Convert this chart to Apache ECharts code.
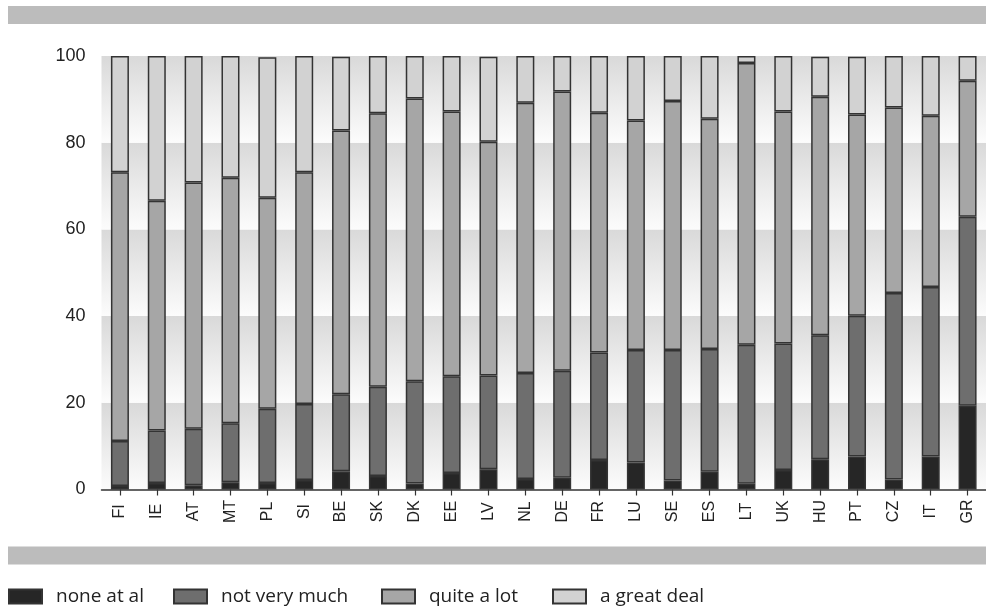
<!DOCTYPE html>
<html>
<head>
<meta charset="utf-8">
<style>
  html, body { margin: 0; padding: 0; background: #ffffff; }
  #chart { width: 986px; height: 608px; }
</style>
<script src="https://cdn.jsdelivr.net/npm/echarts@6/dist/echarts.min.js"></script>
</head>
<body>
<div id="chart"></div>
<script>
// Countries, ordered by share answering "not very much" + "none at all"
const countries = ['FI','IE','AT','MT','PL','SI','BE','SK','DK','EE','LV','NL','DE','FR','LU','SE','ES','LT','UK','HU','PT','CZ','IT','GR'];

// Percentages per answer category
const noneAtAll   = [0.8, 1.5, 1.0, 1.7, 1.5, 2.2, 4.2, 3.1, 1.4, 3.8, 4.7, 2.4, 2.7, 6.8, 6.2, 2.1, 4.1, 1.3, 4.5, 7.0, 7.6, 2.3, 7.6, 19.3];
const notVeryMuch = [10.4, 12.1, 13.0, 13.6, 17.1, 17.5, 17.8, 20.6, 23.6, 22.3, 21.6, 24.5, 24.7, 24.8, 26.0, 30.1, 28.3, 32.1, 29.2, 28.6, 32.5, 43.0, 39.1, 43.6];
const quiteALot   = [62.0, 53.0, 56.8, 56.6, 48.7, 53.5, 60.8, 63.1, 65.2, 61.1, 53.9, 62.3, 64.4, 55.3, 52.9, 57.4, 53.1, 65.0, 53.5, 55.0, 46.4, 42.8, 39.5, 31.4];
const greatDeal   = [26.8, 33.4, 29.2, 28.1, 32.4, 26.8, 17.0, 13.2, 9.8, 12.8, 19.6, 10.8, 8.2, 13.1, 14.9, 10.4, 14.5, 1.6, 12.8, 9.2, 13.3, 11.9, 13.8, 5.7];

const seriesNames = ['none at al', 'not very much', 'quite a lot', 'a great deal'];
const yTicks = [0, 20, 40, 60, 80, 100];

const fills = ['#262626', '#6e6e6e', '#a6a6a6', '#d2d2d2'];
const values = [noneAtAll, notVeryMuch, quiteALot, greatDeal];

const chart = echarts.init(document.getElementById('chart'), null, { renderer: 'canvas' });

// Each 20-point band fades from grey at its top to near white at its bottom
const bandGradient = {
  type: 'linear', x: 0, y: 0, x2: 0, y2: 1,
  colorStops: [
    { offset: 0, color: '#d9d9d9' },
    { offset: 1, color: '#fcfcfc' }
  ]
};

const legendLeft = [8, 173, 381, 552];

chart.setOption({
  animation: false,
  backgroundColor: '#ffffff',
  grid: { left: 101.5, top: 56, width: 895, bottom: 118.5, containLabel: false },
  graphic: [
    { type: 'rect', left: 8, top: 6, shape: { width: 978, height: 18 }, style: { fill: '#bcbcbc' }, silent: true },
    { type: 'rect', left: 8, top: 546.5, shape: { width: 978, height: 18 }, style: { fill: '#bcbcbc' }, silent: true }
  ],
  legend: seriesNames.map((name, i) => ({
    data: [name],
    left: legendLeft[i],
    top: 587,
    padding: 0,
    icon: 'rect',
    itemWidth: 33,
    itemHeight: 14,
    itemGap: 0,
    selectedMode: false,
    textStyle: {
      fontFamily: '"Open Sans", Roboto, sans-serif',
      fontSize: 19,
      color: '#222',
      padding: [0, 0, 0, 9]
    }
  })),
  xAxis: {
    type: 'category',
    data: countries,
    axisLine: { show: true, lineStyle: { color: '#333', width: 1.5 } },
    axisTick: { show: true, alignWithLabel: true, length: 6, lineStyle: { color: '#333', width: 1.2 } },
    axisLabel: {
      rotate: 90,
      align: 'center',
      verticalAlign: 'middle',
      margin: 22,
      interval: 0,
      fontFamily: '"Liberation Sans Narrow", "Liberation Sans", Arial, sans-serif',
      fontSize: 16,
      color: '#222'
    },
    splitLine: { show: false }
  },
  yAxis: {
    type: 'value',
    min: yTicks[0],
    max: yTicks[yTicks.length - 1],
    interval: yTicks[1] - yTicks[0],
    axisLine: { show: false },
    axisTick: { show: false },
    axisLabel: {
      margin: 16,
      fontFamily: '"Liberation Sans", Arial, sans-serif',
      fontSize: 18,
      color: '#222'
    },
    splitLine: { show: false },
    splitArea: { show: true, areaStyle: { color: [bandGradient] } }
  },
  series: seriesNames.map((name, i) => ({
    name: name,
    type: 'bar',
    stack: 'total',
    barWidth: 18,
    data: values[i],
    itemStyle: { color: fills[i], borderColor: '#333', borderWidth: 1.5 },
    emphasis: { disabled: true }
  }))
});
</script>
</body>
</html>
